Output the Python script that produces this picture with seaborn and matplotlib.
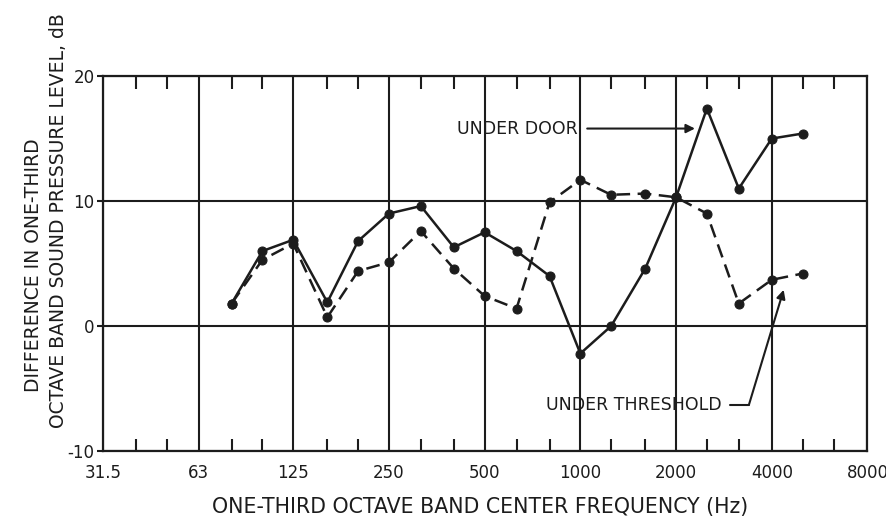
import matplotlib
matplotlib.use("Agg")
import matplotlib.pyplot as plt
from matplotlib.ticker import FixedLocator, NullFormatter, FixedFormatter
import seaborn as sns
import pandas as pd

# One-third octave band centre frequencies (Hz)
freqs = [80, 100, 125, 160, 200, 250, 315, 400, 500, 630, 800,
         1000, 1250, 1600, 2000, 2500, 3150, 4000, 5000]

# Difference in band sound pressure level (dB)
under_door = [1.8, 6.0, 6.9, 1.9, 6.8, 9.0, 9.6, 6.3, 7.5, 6.0, 4.0,
              -2.2, 0.0, 4.6, 10.3, 17.4, 11.0, 15.0, 15.4]
under_threshold = [1.8, 5.3, 6.6, 0.7, 4.4, 5.1, 7.6, 4.6, 2.4, 1.4, 9.9,
                   11.7, 10.5, 10.6, 10.3, 9.0, 1.8, 3.7, 4.2]

octave_ticks = [31.5, 63, 125, 250, 500, 1000, 2000, 4000, 8000]
octave_labels = ["31.5", "63", "125", "250", "500", "1000", "2000", "4000", "8000"]
third_ticks = [40, 50, 80, 100, 160, 200, 315, 400, 630, 800,
               1250, 1600, 2500, 3150, 5000, 6300]
y_ticks = [-10, 0, 10, 20]

df = pd.DataFrame({
    "freq": freqs * 2,
    "diff": under_door + under_threshold,
    "path": ["UNDER DOOR"] * len(freqs) + ["UNDER THRESHOLD"] * len(freqs),
})

sns.set_theme(style="white")
plt.rcParams["font.family"] = ["DejaVu Sans"]

ink = "#1c1c1c"
fig = plt.figure(figsize=(8.87, 5.30), dpi=100)
ax = fig.add_axes([0.116, 0.149, 0.862, 0.7075])

sns.lineplot(data=df[df.path == "UNDER DOOR"], x="freq", y="diff", ax=ax,
             color=ink, lw=1.8, marker="o", markersize=6.5, markeredgecolor=ink,
             markerfacecolor=ink, legend=False)
sns.lineplot(data=df[df.path == "UNDER THRESHOLD"], x="freq", y="diff", ax=ax,
             color=ink, lw=1.8, marker="o", markersize=6.5, markeredgecolor=ink,
             markerfacecolor=ink, legend=False, dashes=False)
ax.lines[-1].set_dashes([5.5, 3])

ax.set_xscale("log", base=2)
ax.set_xlim(31.5, 8000)
ax.set_ylim(-10, 20)

ax.xaxis.set_major_locator(FixedLocator(octave_ticks))
ax.xaxis.set_major_formatter(FixedFormatter(octave_labels))
ax.xaxis.set_minor_locator(FixedLocator(third_ticks))
ax.xaxis.set_minor_formatter(NullFormatter())
ax.set_yticks(y_ticks)
ax.set_yticklabels([str(v) for v in y_ticks])

ax.tick_params(axis="x", which="major", length=0, pad=9, labelsize=12, colors=ink)
ax.tick_params(axis="x", which="minor", direction="in", length=9, width=1.5,
               top=True, bottom=True, color=ink)
ax.tick_params(axis="y", which="major", direction="out", length=4, width=1.5,
               pad=2, labelsize=12, left=True, colors=ink)

ax.grid(True, which="major", axis="both", color=ink, lw=1.5)
for s in ax.spines.values():
    s.set_color(ink)
    s.set_linewidth(1.6)
ax.set_xlabel("")
ax.set_ylabel("")

# Curve labels
ax.text(410, 15.8, "UNDER DOOR", ha="left", va="center", fontsize=12.5, color=ink)
ax.annotate("", xy=(2340, 15.8), xytext=(1030, 15.8),
            arrowprops=dict(arrowstyle="-|>", color=ink, lw=1.5, mutation_scale=13))
ax.text(782, -6.3, "UNDER THRESHOLD", ha="left", va="center", fontsize=12.5, color=ink)
ax.plot([2953, 3390], [-6.3, -6.3], color=ink, lw=1.5)
ax.annotate("", xy=(4360, 2.9), xytext=(3390, -6.3),
            arrowprops=dict(arrowstyle="-|>", color=ink, lw=1.5, mutation_scale=13,
                            shrinkA=0, shrinkB=0))

fig.text(0.038, 0.50, "DIFFERENCE IN ONE-THIRD", rotation=90, ha="center",
         va="center", fontsize=13.5, color=ink)
fig.text(0.066, 0.583, "OCTAVE BAND SOUND PRESSURE LEVEL, dB", rotation=90,
         ha="center", va="center", fontsize=13.5, color=ink)
fig.text(0.541, 0.043, "ONE-THIRD OCTAVE BAND CENTER FREQUENCY (Hz)",
         ha="center", va="center", fontsize=14.8, color=ink)

fig.savefig("out.png", dpi=100, facecolor="white")
